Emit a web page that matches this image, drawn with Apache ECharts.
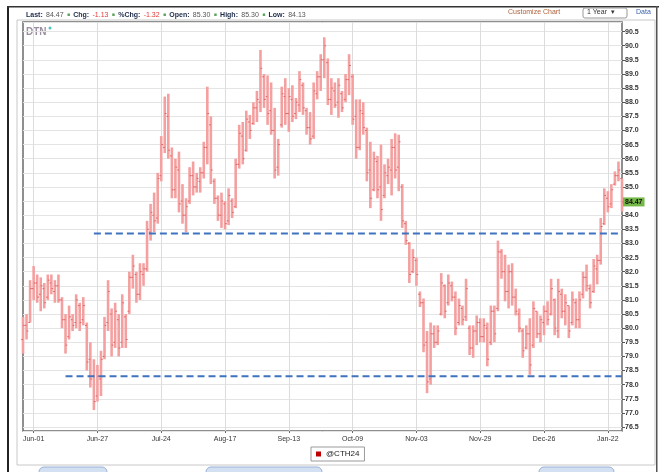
<!DOCTYPE html>
<html>
<head>
<meta charset="utf-8">
<script src="https://cdn.jsdelivr.net/npm/echarts@6/dist/echarts.min.js"></script>
<style>
  html, body { margin: 0; padding: 0; background: #fff; }
  #chart { width: 671px; height: 472px; }
</style>
</head>
<body>
<div id="chart"></div>
<script>
// trading days shown on the x axis
const dates = [
  'May-26','May-30','May-31','Jun-01','Jun-02','Jun-05','Jun-06','Jun-07','Jun-08','Jun-09',
  'Jun-12','Jun-13','Jun-14','Jun-15','Jun-16','Jun-19','Jun-20','Jun-21','Jun-22','Jun-23',
  'Jun-26','Jun-27','Jun-28','Jun-29','Jun-30','Jul-03','Jul-05','Jul-06','Jul-07','Jul-10',
  'Jul-11','Jul-12','Jul-13','Jul-14','Jul-17','Jul-18','Jul-19','Jul-20','Jul-21','Jul-24',
  'Jul-25','Jul-26','Jul-27','Jul-28','Jul-31','Aug-01','Aug-02','Aug-03','Aug-04','Aug-07',
  'Aug-08','Aug-09','Aug-10','Aug-11','Aug-14','Aug-15','Aug-16','Aug-17','Aug-18','Aug-21',
  'Aug-22','Aug-23','Aug-24','Aug-25','Aug-28','Aug-29','Aug-30','Aug-31','Sep-01','Sep-05',
  'Sep-06','Sep-07','Sep-08','Sep-11','Sep-12','Sep-13','Sep-14','Sep-15','Sep-18','Sep-19',
  'Sep-20','Sep-21','Sep-22','Sep-25','Sep-26','Sep-27','Sep-28','Sep-29','Oct-02','Oct-03',
  'Oct-04','Oct-05','Oct-06','Oct-09','Oct-10','Oct-11','Oct-12','Oct-16','Oct-17','Oct-18',
  'Oct-19','Oct-20','Oct-23','Oct-24','Oct-25','Oct-26','Oct-27','Oct-30','Oct-31','Nov-01',
  'Nov-02','Nov-03','Nov-06','Nov-07','Nov-08','Nov-09','Nov-10','Nov-13','Nov-14','Nov-15',
  'Nov-16','Nov-17','Nov-20','Nov-21','Nov-22','Nov-23','Nov-24','Nov-27','Nov-28','Nov-29',
  'Nov-30','Dec-01','Dec-04','Dec-05','Dec-06','Dec-07','Dec-08','Dec-11','Dec-12','Dec-13',
  'Dec-14','Dec-15','Dec-18','Dec-19','Dec-20','Dec-21','Dec-22','Dec-26','Dec-27','Dec-28',
  'Dec-29','Jan-02','Jan-03','Jan-04','Jan-05','Jan-08','Jan-09','Jan-10','Jan-11','Jan-12',
  'Jan-15','Jan-16','Jan-17','Jan-18','Jan-19','Jan-22','Jan-23','Jan-24','Jan-25','Jan-26'
];
const tickLabels = ['Jun-01','Jun-27','Jul-24','Aug-17','Sep-13','Oct-09','Nov-03','Nov-29','Dec-26','Jan-22'];

const opens = [
  79.6,80.1,80.2,81.4,81.6,81.2,81.4,81.1,81.6,81.3, 81.5,81.0,80.3,79.7,80.3,80.2,80.8,80.3,80.1,78.9,
  78.3,77.6,78.2,79.0,80.2,80.5,79.5,80.3,79.5,80.4, 80.6,81.8,81.9,81.2,81.9,82.1,83.4,84.0,83.9,85.4,
  86.4,87.5,86.1,84.9,85.6,84.5,84.0,84.5,85.4,85.0, 85.2,85.5,86.4,87.2,85.2,84.6,84.0,84.4,83.8,84.5,
  84.3,85.8,86.8,86.3,87.3,87.25,87.8,88.0,88.9,88.2, 87.7,87.0,85.7,87.2,88.2,87.6,88.1,87.6,87.9,88.6,
  87.7,87.1,86.8,88.3,88.9,89.5,89.4,88.1,88.4,88.0, 88.3,88.1,88.8,88.9,87.5,86.4,87.6,87.0,85.6,84.9,
  85.9,85.0,84.7,85.4,85.6,86.4,85.7,85.0,83.7,83.0, 82.0,82.4,81.2,80.9,79.5,78.2,79.8,79.5,80.5,81.5,
  80.9,81.5,81.1,80.2,80.7,80.4,80.0,79.3,79.9,80.2, 79.7,80.0,79.5,80.6,80.7,82.7,82.0,81.3,82.0,81.1,
  80.5,79.9,79.3,79.8,79.4,80.6,79.8,80.2,80.6,80.5, 81.0,79.9,81.2,80.6,80.8,80.2,80.9,80.3,81.2,81.8,
  81.4,81.3,82.1,82.4,83.7,84.6,84.4,85.1,85.4,85.3
];
const highs = [
  80.4,80.5,81.7,82.2,81.9,81.8,81.6,81.9,81.9,81.7, 81.9,81.1,80.5,80.8,80.5,81.2,80.9,81.1,80.2,79.5,
  78.9,78.7,79.2,80.4,81.7,80.7,80.9,80.5,81.2,80.5, 82.0,82.6,82.0,82.3,82.3,83.8,84.4,84.8,85.5,86.8,
  88.2,88.3,86.4,86.0,86.25,85.1,84.6,85.7,85.9,85.5, 85.7,86.6,88.55,87.5,85.3,84.7,84.8,84.5,84.95,84.6,
  86.0,87.2,87.3,87.7,87.55,88.0,88.4,89.85,89.0,88.95, 88.7,87.8,86.7,88.55,88.85,88.5,88.6,88.15,89.1,88.7,
  87.8,87.65,88.7,89.1,89.7,90.3,89.55,88.85,88.7,88.85, 88.4,89.0,89.7,89.0,88.1,88.1,88.0,87.1,86.6,86.25,
  86.1,86.5,85.8,86.0,86.7,86.9,86.85,85.1,83.8,83.05, 82.8,82.5,81.3,81.05,79.9,80.2,80.1,80.1,81.95,81.55,
  81.9,81.65,81.3,81.05,80.8,81.75,80.1,80.1,80.45,80.35, 80.35,80.2,80.8,80.8,83.1,82.8,82.6,82.25,82.3,81.4,
  80.7,80.0,80.1,80.35,80.95,80.6,80.45,80.8,80.95,81.75, 81.05,81.75,81.4,81.2,80.8,81.3,81.05,81.3,82.0,82.25,
  81.55,82.45,82.6,83.9,84.95,84.85,85.1,85.55,85.9,85.3
];
const lows = [
  79.1,79.6,80.2,81.0,80.9,80.6,80.7,81.0,81.2,80.9, 80.9,80.0,79.1,79.6,79.9,80.0,79.9,80.1,78.5,77.9,
  77.1,77.4,77.6,78.9,79.9,79.0,79.3,79.0,79.3,79.3, 80.5,81.4,80.9,81.0,81.5,82.0,83.1,83.4,83.7,85.2,
  86.2,86.0,84.6,84.6,84.1,83.7,83.4,84.4,84.7,84.8, 84.8,85.3,85.8,85.1,84.4,83.8,83.55,83.5,83.65,83.9,
  84.25,85.65,85.8,86.25,86.7,87.2,87.3,87.65,87.8,87.2, 86.85,85.3,85.4,87.1,87.2,86.95,87.3,87.4,87.65,87.55,
  86.85,86.5,86.7,88.1,88.4,88.85,87.9,87.55,87.8,87.45, 87.65,88.0,88.25,87.2,86.0,86.3,86.85,85.2,84.25,84.85,
  84.6,83.8,84.6,85.1,84.7,85.3,84.85,83.55,82.95,81.6, 81.95,81.5,80.75,79.15,77.7,78.0,79.3,79.4,80.45,80.35,
  80.8,80.95,79.75,80.1,80.1,80.25,79.05,78.95,79.4,79.5, 79.5,78.65,79.4,79.5,80.6,81.75,80.95,80.7,80.8,80.45,
  79.85,78.95,79.25,78.35,79.3,79.65,79.5,79.75,80.1,80.45, 79.75,79.65,80.35,80.1,79.65,80.1,80.0,80.0,81.05,81.3,
  80.7,81.25,81.55,82.25,83.65,84.1,84.25,85.05,85.2,84.13
];
const closes = [
  80.1,79.9,81.4,81.6,81.1,81.5,80.9,81.7,81.4,81.5, 81.0,80.3,79.4,80.4,80.1,81.0,80.2,80.8,78.8,78.2,
  77.4,78.3,78.9,80.1,81.3,79.4,80.6,79.3,80.9,79.6, 81.8,82.2,81.2,82.0,82.1,83.5,84.1,83.8,85.3,86.5,
  87.6,86.3,84.9,85.7,84.4,84.0,84.3,85.4,85.0,85.3, 85.5,86.4,87.6,85.6,84.6,84.0,84.5,83.7,84.7,84.1,
  85.8,86.9,86.0,87.4,87.0,87.8,88.1,89.2,88.1,87.6, 87.0,85.6,86.5,88.3,87.6,88.2,87.5,88.0,88.8,87.8,
  87.1,86.7,88.4,88.9,89.5,90.0,88.1,88.5,87.9,88.6, 87.8,88.8,89.3,87.4,86.4,87.7,87.1,85.5,84.6,86.0,
  84.9,84.2,85.5,85.7,86.4,85.6,86.6,83.8,83.1,81.9, 82.5,81.9,80.9,79.4,78.1,79.8,79.5,79.9,81.6,80.6,
  81.6,81.1,80.0,80.8,80.3,81.4,79.3,79.9,80.2,79.7, 80.1,78.9,80.6,79.8,82.7,82.0,81.3,82.0,81.1,80.6,
  80.0,79.2,79.8,78.7,80.7,79.8,80.3,80.6,80.3,81.4, 80.0,81.3,80.6,80.9,79.9,81.0,80.3,81.0,81.8,81.5,
  80.9,82.2,82.4,83.6,84.7,84.3,84.9,85.4,85.6,84.47
];

// horizontal support / resistance levels and the day each one starts on
const levels = [83.35, 78.3];
const levelStart = [20, 12];
const seriesName = '@CTH24';

const chart = echarts.init(document.getElementById('chart'));

const ohlc = dates.map((d, i) => [i, opens[i], highs[i], lows[i], closes[i]]);
const last = closes.length - 1;
const chg = closes[last] - closes[last - 1];
const pct = chg / closes[last - 1] * 100;
const fmt = v => (v > 0 ? '+' : '') + v.toFixed(2);

function renderBar(params, api) {
  const i = api.value(0);
  const o = api.coord([i, api.value(1)]);
  const h = api.coord([i, api.value(2)]);
  const l = api.coord([i, api.value(3)]);
  const c = api.coord([i, api.value(4)]);
  const x = o[0];
  return {
    type: 'group',
    children: [
      { type: 'line', shape: { x1: x, y1: h[1], x2: x, y2: l[1] },
        style: { stroke: '#f4a0a0', lineWidth: 2.6 } },
      { type: 'line', shape: { x1: x - 1.8, y1: o[1], x2: x, y2: o[1] },
        style: { stroke: '#e06868', lineWidth: 1 } },
      { type: 'line', shape: { x1: x, y1: c[1], x2: x + 1.8, y2: c[1] },
        style: { stroke: '#e06868', lineWidth: 1 } }
    ]
  };
}

const isTick = (idx, val) => tickLabels.includes(val);

chart.setOption({
  animation: false,
  backgroundColor: '#fff',
  textStyle: { fontFamily: 'Liberation Sans, Arial, sans-serif' },
  grid: { left: 23, right: 49, top: 22, bottom: 41, show: true, borderColor: '#6b6b6b', borderWidth: 1.5 },
  legend: {
    data: [seriesName],
    left: 311, top: 447,
    icon: 'rect', itemWidth: 5, itemHeight: 5, itemGap: 4,
    borderColor: '#9a9a9a', borderWidth: 1, padding: [3, 5],
    backgroundColor: '#fff',
    textStyle: { fontSize: 8, color: '#222' }
  },
  xAxis: {
    type: 'category',
    data: dates,
    boundaryGap: false,
    axisLine: { show: false },
    axisTick: { show: true, interval: isTick, length: 2, lineStyle: { color: '#666' } },
    axisLabel: { interval: isTick, fontSize: 7, color: '#333', margin: 5 },
    splitLine: { show: true, interval: isTick, lineStyle: { color: '#dcdcdc', width: 1 } }
  },
  yAxis: {
    type: 'value',
    position: 'right',
    min: 76.36, max: 90.84,
    minInterval: 0.5, maxInterval: 0.5, splitNumber: 29,
    axisLine: { show: false },
    axisTick: { show: true, length: 3, lineStyle: { color: '#555' } },
    axisLabel: {
      fontSize: 7, color: '#333', margin: 3, fontWeight: 'bold',
      showMinLabel: false, showMaxLabel: false,
      formatter: v => v.toFixed(1)
    },
    splitLine: { lineStyle: { color: '#e4e4e4', width: 1 } }
  },
  series: [
    {
      name: seriesName,
      type: 'custom',
      renderItem: renderBar,
      itemStyle: { color: '#c00000' },
      encode: { x: 0, y: [1, 2, 3, 4] },
      data: ohlc,
      z: 2
    },
    ...levels.map((v, k) => ({
      name: 'level' + k,
      type: 'line',
      data: [[levelStart[k], v], [last, v]],
      symbol: 'none',
      lineStyle: { color: '#3f72bf', width: 2, type: [7, 4] },
      z: 3,
      markLine: k === 0 ? {
        silent: true,
        symbol: 'none',
        lineStyle: { color: 'rgba(0,0,0,0)', width: 0 },
        data: [{ yAxis: closes[last] }],
        label: {
          show: true,
          position: 'end', distance: 1,
          formatter: p => p.value.toFixed(2),
          backgroundColor: '#74b847', color: '#111',
          fontSize: 7, fontWeight: 'bold', padding: [1, 2]
        }
      } : undefined
    }))
  ],
  graphic: [
    // outer frame
    { type: 'rect', shape: { x: 7, y: 6, width: 2, height: 466 }, style: { fill: '#222' } },
    { type: 'rect', shape: { x: 7, y: 6, width: 652, height: 1.5 }, style: { fill: '#333' } },
    { type: 'rect', shape: { x: 656, y: 6, width: 1.5, height: 466 }, style: { fill: '#555' } },
    { type: 'rect', shape: { x: 17, y: 20, width: 638, height: 445 }, style: { fill: 'none', stroke: '#c8c8c8', lineWidth: 1 }, z: -1 },
    // buttons peeking at the bottom
    { type: 'rect', shape: { x: 39, y: 467, width: 68, height: 12, r: 5 }, style: { fill: '#d3e0f2', stroke: '#9ab2d6' } },
    { type: 'rect', shape: { x: 206, y: 467, width: 116, height: 12, r: 5 }, style: { fill: '#d3e0f2', stroke: '#9ab2d6' } },
    { type: 'rect', shape: { x: 539, y: 467, width: 75, height: 12, r: 5 }, style: { fill: '#d3e0f2', stroke: '#9ab2d6' } },
    // quote header
    {
      type: 'text', left: 26, top: 9,
      style: {
        text: '{b|Last:} {v|' + closes[last].toFixed(2) + '} {s|■} {b|Chg:} {r|' + fmt(chg) + '} {s|■} {b|%Chg:} {r|' + fmt(pct) +
          '} {s|■} {b|Open:} {v|' + opens[last].toFixed(2) + '} {s|■} {b|High:} {v|' + highs[last].toFixed(2) +
          '} {s|■} {b|Low:} {v|' + lows[last].toFixed(2) + '}',
        rich: {
          b: { fontSize: 7, fontWeight: 'bold', fill: '#1c2a4a' },
          v: { fontSize: 7, fill: '#555' },
          r: { fontSize: 7, fill: '#e03a3a' },
          s: { fontSize: 5, fill: '#5aa05a' }
        }
      }
    },
    { type: 'text', left: 508, top: 9, style: { text: 'Customize Chart', fontSize: 7, fill: '#b0603a' } },
    { type: 'rect', shape: { x: 583, y: 8, width: 44, height: 10, r: 2 }, style: { fill: '#fff', stroke: '#999' } },
    { type: 'text', left: 587, top: 9, style: { text: '1 Year  ▾', fontSize: 7, fill: '#333' } },
    { type: 'text', left: 636, top: 9, style: { text: 'Data', fontSize: 7, fill: '#3a62b0' } },
    // DTN logo
    { type: 'text', left: 26, top: 27, style: { text: 'DTN', fontSize: 10, fontWeight: 'bold', fill: '#9a8da0' } },
    { type: 'circle', shape: { cx: 50, cy: 28, r: 1.5 }, style: { fill: '#4cc3c0' } }
  ]
});
</script>
</body>
</html>
